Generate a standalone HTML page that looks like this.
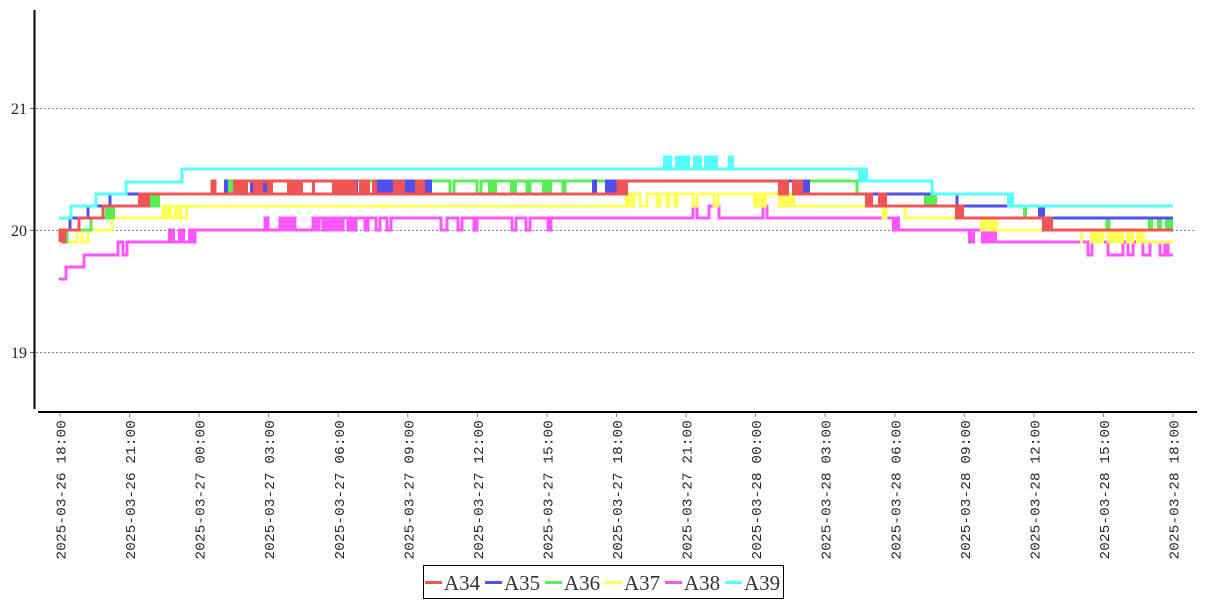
<!DOCTYPE html>
<html><head><meta charset="utf-8"><style>
html,body{margin:0;padding:0;background:#fff;}
svg{display:block;}
.xl{font-family:"Liberation Mono","DejaVu Sans Mono",monospace;font-size:14.2px;fill:#222;letter-spacing:0.2px;}
.yl{font-family:"Liberation Serif","DejaVu Serif",serif;font-size:16px;fill:#222;}
.lg{font-family:"Liberation Serif","DejaVu Serif",serif;font-size:21px;fill:#333;}
</style></head><body>
<svg width="1207" height="600" viewBox="0 0 1207 600" xmlns="http://www.w3.org/2000/svg">
<rect width="1207" height="600" fill="#fff"/>
<!-- grid -->
<g stroke="#888" stroke-width="1" stroke-dasharray="2,2">
<line x1="36" y1="108.5" x2="1195" y2="108.5"/>
<line x1="36" y1="230.5" x2="1195" y2="230.5"/>
<line x1="36" y1="352.5" x2="1195" y2="352.5"/>
</g>
<g stroke="#666" stroke-width="1">
<line x1="30" y1="108.5" x2="34" y2="108.5"/>
<line x1="30" y1="230.5" x2="34" y2="230.5"/>
<line x1="30" y1="352.5" x2="34" y2="352.5"/>
</g>
<text class="yl" x="27" y="114" text-anchor="end">21</text>
<text class="yl" x="27" y="236" text-anchor="end">20</text>
<text class="yl" x="27" y="358" text-anchor="end">19</text>

<g fill="none" stroke-width="3" stroke-linejoin="miter">
<!-- A38 magenta -->
<g stroke="#ff55ff" fill="none">
<path d="M59,279 H66 V267 H84 V255 H118 V242 H123 V255 H127 V242 H168"/>
<path d="M168,242 H195 V230"/>
<path d="M195,230 H265 V218 H268 V230 H280 V218 H283 V230 H286 V218 H289 V230 H292 V218 H295 V230 H313 V218 H316 V230 H319 V218 H323 V230 H326 V218 H329 V230 H332 V218 H335 V230 H338 V218 H341 V230 H343 V218 H348 V230 H351 V218 H354 V230 H356 V218 H365 V230 H368 V218 H376 V230 H380 V218 H387 V230 H391 V218 H441 V230 H447 V218 H458 V230 H462 V218 H474 V230 H477 V218 H512 V230 H516 V218 H526 V230 H530 V218 H548 V230 H551 V218 H693 V206 H697 V218 H709 V206 H719 V218 H763 V206 H767 V218 H892"/>
<path d="M900,230 H980"/>
<path d="M997,242 H1088 V255 H1092 V242 H1108 V255 H1123 V242 H1128 V255 H1133 V242 H1143 V255 H1150 V242 H1160 V255 H1165 V242 H1168 V255 H1173"/>
</g>
<g fill="#ff55ff" stroke="none">
<rect x="168" y="228.5" width="7" height="15"/>
<rect x="178" y="228.5" width="7" height="15"/>
<rect x="188" y="228.5" width="7" height="15"/>
<rect x="892" y="216.5" width="8" height="15"/>
<rect x="968" y="228.5" width="7" height="15"/>
<rect x="981" y="228.5" width="16" height="15"/>
</g>

<!-- A37 yellow -->
<g stroke="#ffff55">
<path d="M60,236 V242 H77 V230 H82 V242 H88 V230 H112 V218 H188"/>
<path d="M163,218 V206 H628 V194 H640 V206 H647 V194 H657 V206 H660 V194 H667 V206 H669 V194 H675 V206 H677 V194 H693 V206 H697 V194 H714 V206 H718 V194 H753"/>
<path d="M767,194 H778"/>
<path d="M795,206 H883 V218 H886 V206 H905 V218 H980"/>
<path d="M998,230 H1143 V242 H1173"/>
</g>
<g fill="#ffff55" stroke="none">
<rect x="163" y="204.5" width="9" height="15"/>
<rect x="174" y="204.5" width="8" height="15"/>
<rect x="185" y="204.5" width="3" height="15"/>
<rect x="625" y="192.5" width="10" height="15"/>
<rect x="753" y="192.5" width="14" height="15"/>
<rect x="778" y="192.5" width="17" height="15"/>
<rect x="980" y="216.5" width="18" height="15"/>
<rect x="1080" y="228.5" width="3" height="15"/>
<rect x="1090" y="228.5" width="14" height="15"/>
<rect x="1107" y="228.5" width="17" height="15"/>
<rect x="1126" y="228.5" width="8" height="15"/>
<rect x="1136" y="228.5" width="7" height="15"/>
</g>

<!-- A36 green -->
<g stroke="#55ee55">
<path d="M63,242 H67 V230 H91 V218 H105"/>
<path d="M115,206 H150"/>
<path d="M160,194 H227"/>
<path d="M237,181 H450 V194 H454 V181 H477 V194 H481 V181 H488"/>
<path d="M497,181 H510"/>
<path d="M517,181 H527 V194 H530 V181 H542"/>
<path d="M552,181 H563 V194 H565 V181 H857 V194 H925"/>
<path d="M937,206 H1023"/>
<path d="M1027,218 H1107 V230 H1109 V218 H1148"/>
</g>
<g fill="#55ee55" stroke="none">
<rect x="105" y="204.5" width="10" height="15"/>
<rect x="150" y="192.5" width="10" height="15"/>
<rect x="227" y="179.5" width="10" height="16"/>
<rect x="488" y="179.5" width="9" height="16"/>
<rect x="510" y="179.5" width="7" height="16"/>
<rect x="542" y="179.5" width="10" height="16"/>
<rect x="924" y="192.5" width="13" height="15"/>
<rect x="1023" y="204.5" width="4" height="15"/>
<rect x="1148" y="216.5" width="5" height="15"/>
<rect x="1157" y="216.5" width="5" height="15"/>
<rect x="1165" y="216.5" width="8" height="15"/>
</g>

<!-- A35 blue -->
<g stroke="#5050ee">
<path d="M60,230 H70 V218 H88 V206 H110 V194 H618 V181 H803"/>
<path d="M810,194 H957 V206 H1038"/>
<path d="M1045,218 H1173"/>
</g>
<g fill="#5050ee" stroke="none">
<rect x="803" y="179.5" width="7" height="16"/>
<rect x="1038" y="204.5" width="7" height="15"/>
<rect x="224" y="179.5" width="4" height="16"/>
<rect x="250" y="179.5" width="3" height="16"/>
<rect x="262" y="179.5" width="5" height="16"/>
<rect x="353" y="179.5" width="5" height="16"/>
<rect x="377" y="179.5" width="16" height="16"/>
<rect x="405" y="179.5" width="10" height="16"/>
<rect x="425" y="179.5" width="7" height="16"/>
<rect x="592" y="179.5" width="5" height="16"/>
<rect x="605" y="179.5" width="12" height="16"/>
</g>

<!-- A34 red -->
<g stroke="#f05454">
<path d="M60,242 V230 H63 V242 H65 V230 H79 V218 H103 V206 H138"/>
<path d="M150,194 H212 V181 H215 V194 H618"/>
<path d="M233,181 H340"/>
<path d="M618,194 V181 H778"/>
<path d="M803,194 H866"/>
<path d="M873,206 H955"/>
<path d="M963,218 H1042"/>
<path d="M1053,230 H1173"/>
</g>
<g fill="#f05454" stroke="none">
<rect x="138" y="192.5" width="12" height="15"/>
<rect x="233" y="179.5" width="15" height="16"/>
<rect x="253" y="179.5" width="10" height="16"/>
<rect x="267" y="179.5" width="6" height="16"/>
<rect x="287" y="179.5" width="16" height="16"/>
<rect x="312" y="179.5" width="3" height="16"/>
<rect x="332" y="179.5" width="25" height="16"/>
<rect x="359" y="179.5" width="11" height="16"/>
<rect x="372" y="179.5" width="5" height="16"/>
<rect x="393" y="179.5" width="12" height="16"/>
<rect x="415" y="179.5" width="10" height="16"/>
<rect x="618" y="179.5" width="10" height="16"/>
<rect x="778" y="179.5" width="11" height="16"/>
<rect x="792" y="179.5" width="11" height="16"/>
<rect x="865" y="192.5" width="8" height="15"/>
<rect x="878" y="192.5" width="9" height="15"/>
<rect x="955" y="204.5" width="9" height="15"/>
<rect x="1042" y="216.5" width="11" height="15"/>
</g>

<!-- A39 cyan -->
<g stroke="#55ffff">
<path d="M59,218 H71 V206 H96 V194 H126 V182 H182 V169 H858"/>
<path d="M868,181 H932 V194 H1007"/>
<path d="M1014,206 H1173"/>
</g>
<g fill="#55ffff" stroke="none">
<rect x="663" y="155.5" width="9" height="15"/>
<rect x="675" y="155.5" width="15" height="15"/>
<rect x="693" y="155.5" width="9" height="15"/>
<rect x="704" y="155.5" width="14" height="15"/>
<rect x="728" y="155.5" width="6" height="15"/>
<rect x="858" y="167.5" width="10" height="15"/>
<rect x="1007" y="192.5" width="7" height="15"/>
</g>
</g>

<!-- axes -->
<line x1="34.5" y1="10" x2="34.5" y2="409" stroke="#000" stroke-width="2"/>
<line x1="38" y1="412" x2="1197" y2="412" stroke="#000" stroke-width="2"/>
<g stroke="#888" stroke-width="1">
<line x1="60" y1="413" x2="60" y2="417"/><line x1="129.6" y1="413" x2="129.6" y2="417"/>
<line x1="199.1" y1="413" x2="199.1" y2="417"/><line x1="268.7" y1="413" x2="268.7" y2="417"/>
<line x1="338.3" y1="413" x2="338.3" y2="417"/><line x1="407.8" y1="413" x2="407.8" y2="417"/>
<line x1="477.4" y1="413" x2="477.4" y2="417"/><line x1="546.9" y1="413" x2="546.9" y2="417"/>
<line x1="616.5" y1="413" x2="616.5" y2="417"/><line x1="686.1" y1="413" x2="686.1" y2="417"/>
<line x1="755.6" y1="413" x2="755.6" y2="417"/><line x1="825.2" y1="413" x2="825.2" y2="417"/>
<line x1="894.8" y1="413" x2="894.8" y2="417"/><line x1="964.3" y1="413" x2="964.3" y2="417"/>
<line x1="1033.9" y1="413" x2="1033.9" y2="417"/><line x1="1103.4" y1="413" x2="1103.4" y2="417"/>
<line x1="1173" y1="413" x2="1173" y2="417"/>
</g>
<g class="xl" text-anchor="end">
<text transform="translate(65.5,420) rotate(-90)">2025-03-26 18:00</text>
<text transform="translate(135.1,420) rotate(-90)">2025-03-26 21:00</text>
<text transform="translate(204.6,420) rotate(-90)">2025-03-27 00:00</text>
<text transform="translate(274.2,420) rotate(-90)">2025-03-27 03:00</text>
<text transform="translate(343.8,420) rotate(-90)">2025-03-27 06:00</text>
<text transform="translate(413.3,420) rotate(-90)">2025-03-27 09:00</text>
<text transform="translate(482.9,420) rotate(-90)">2025-03-27 12:00</text>
<text transform="translate(552.4,420) rotate(-90)">2025-03-27 15:00</text>
<text transform="translate(622,420) rotate(-90)">2025-03-27 18:00</text>
<text transform="translate(691.6,420) rotate(-90)">2025-03-27 21:00</text>
<text transform="translate(761.1,420) rotate(-90)">2025-03-28 00:00</text>
<text transform="translate(830.7,420) rotate(-90)">2025-03-28 03:00</text>
<text transform="translate(900.3,420) rotate(-90)">2025-03-28 06:00</text>
<text transform="translate(969.8,420) rotate(-90)">2025-03-28 09:00</text>
<text transform="translate(1039.4,420) rotate(-90)">2025-03-28 12:00</text>
<text transform="translate(1108.9,420) rotate(-90)">2025-03-28 15:00</text>
<text transform="translate(1178.5,420) rotate(-90)">2025-03-28 18:00</text>
</g>

<!-- legend -->
<rect x="423.5" y="565.5" width="360" height="33" fill="#fff" stroke="#000" stroke-width="1"/>
<g stroke-width="3">
<line x1="425" y1="582.5" x2="442" y2="582.5" stroke="#f05454"/>
<line x1="485" y1="582.5" x2="502" y2="582.5" stroke="#5050ee"/>
<line x1="545" y1="582.5" x2="562" y2="582.5" stroke="#55ee55"/>
<line x1="605" y1="582.5" x2="622" y2="582.5" stroke="#ffff55"/>
<line x1="665" y1="582.5" x2="682" y2="582.5" stroke="#ff55ff"/>
<line x1="725" y1="582.5" x2="742" y2="582.5" stroke="#55ffff"/>
</g>
<g class="lg">
<text x="444" y="590">A34</text>
<text x="504" y="590">A35</text>
<text x="564" y="590">A36</text>
<text x="624" y="590">A37</text>
<text x="684" y="590">A38</text>
<text x="744" y="590">A39</text>
</g>
</svg>
</body></html>
